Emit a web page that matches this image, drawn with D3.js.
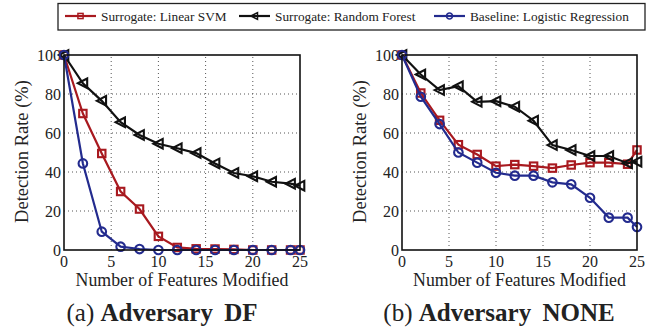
<!DOCTYPE html>
<html>
<head>
  <meta charset="utf-8">
  <title></title>
<style>
  body { margin: 0; background: #fff; }
  .grid line { stroke: #555; stroke-width: 1; stroke-dasharray: 1,3; }
  .frame { fill: none; stroke: #111; stroke-width: 1.6; }
</style>
</head>
<body>
<svg width="656" height="331"></svg>
<script src="https://d3js.org/d3.v7.min.js"></script>
<script>

// data
var features = [0, 2, 4, 6, 8, 10, 12, 14, 16, 18, 20, 22, 24, 25];

var svmDF   = [100, 70, 49.5, 30, 21, 7, 1.3, 0.6, 0.5, 0.3, 0, 0, 0, 0];
var rfDF    = [100, 85.5, 76.5, 65.5, 59, 54.5, 52.2, 49.7, 44.4, 39.5, 37.8, 35, 34, 33];
var lrDF    = [100, 44.4, 9.4, 1.7, 0.5, 0, 0, 0, 0, 0, 0, 0, 0, 0];

var svmNONE = [100, 80.5, 66.5, 54, 49, 43, 43.8, 43, 42, 43.6, 44.8, 44.8, 44, 51.3];
var rfNONE  = [100, 90, 82, 84, 76, 76.3, 73.5, 66.3, 53.8, 51.3, 48.2, 48.2, 44.5, 45.3];
var lrNONE  = [100, 78.6, 64.6, 50, 44.8, 39.6, 38.1, 38.1, 34.7, 33.7, 26.8, 16.6, 16.6, 11.8];

var xTicks = [0, 5, 10, 15, 20, 25];
var yTicks = [0, 20, 40, 60, 80, 100];
var legendNames = ["Surrogate: Linear SVM", "Surrogate: Random Forest", "Baseline: Logistic Regression"];
var colors = ["#a8191f", "#111111", "#232b8e"];
var shapes = ["square", "triangle", "circle"];

var serif = "'Liberation Serif'";
var svg = d3.select("svg");

var y = d3.scaleLinear().domain([0, 100]).range([250, 55]);

function txt(g, size) {
  return g.append("text").style("font-family", serif).style("font-size", size + "px").style("fill", "#222");
}

function marker(g, shape, color) {
  if (shape == "square") {
    g.append("rect").attr("x", -3.7).attr("y", -3.7).attr("width", 7.4).attr("height", 7.4)
      .attr("fill", "none").attr("stroke", color).attr("stroke-width", 2.1);
  } else if (shape == "circle") {
    g.append("circle").attr("r", 4.3)
      .attr("fill", "none").attr("stroke", color).attr("stroke-width", 2.1);
  } else {
    g.append("path").attr("d", "M-5,0L4.3,-4.8L4.3,4.8Z")
      .attr("fill", "none").attr("stroke", color).attr("stroke-width", 2.1).attr("stroke-linejoin", "miter");
  }
}

function panel(x0, x1, series, letter, title, capX) {
  var x = d3.scaleLinear().domain([0, 25]).range([x0, x1]);
  var g = svg.append("g");

  // grid
  var grid = g.append("g").attr("class", "grid");
  grid.selectAll(".gx").data(xTicks.slice(1, -1)).enter().append("line")
    .attr("x1", d => x(d)).attr("x2", d => x(d)).attr("y1", y(0)).attr("y2", y(100));
  grid.selectAll(".gy").data(yTicks.slice(1, -1)).enter().append("line")
    .attr("x1", x(0)).attr("x2", x(25)).attr("y1", d => y(d)).attr("y2", d => y(d));

  // tick labels
  xTicks.forEach(function (d) {
    txt(g, 16).attr("x", x(d)).attr("y", 267).attr("text-anchor", "middle").text(d);
  });
  yTicks.forEach(function (d) {
    txt(g, 16).attr("x", x(0) - 3).attr("y", y(d) + 6).attr("text-anchor", "end").text(d);
  });

  // lines
  var line = d3.line().x((d, i) => x(features[i])).y(d => y(d));
  series.forEach(function (s, k) {
    g.append("path").datum(s).attr("d", line)
      .attr("fill", "none").attr("stroke", colors[k]).attr("stroke-width", 2.2);
    g.selectAll(".m" + k).data(s).enter().append("g")
      .attr("transform", (d, i) => "translate(" + x(features[i]) + "," + y(d) + ")")
      .each(function () { marker(d3.select(this), shapes[k], colors[k]); });
  });

  // frame
  g.append("rect").attr("class", "frame")
    .attr("x", x(0)).attr("y", y(100)).attr("width", x(25) - x(0)).attr("height", y(0) - y(100));

  // labels
  txt(g, 17.8).attr("x", (x0 + x1) / 2).attr("y", 286).attr("text-anchor", "middle")
    .text("Number of Features Modified");
  txt(g, 18.5).attr("transform", "translate(" + (x0 - 36) + "," + (y(50) - 1) + ") rotate(-90)")
    .attr("text-anchor", "middle").text("Detection Rate (%)");
  var cap = txt(g, 25).attr("x", capX).attr("y", 321).attr("text-anchor", "middle");
  cap.append("tspan").text("(" + letter + ") ");
  cap.append("tspan").style("font-weight", "bold").attr("word-spacing", "5px").text(title);
}

panel(64, 300, [svmDF, rfDF, lrDF], "a", "Adversary DF", 162);
panel(402, 637, [svmNONE, rfNONE, lrNONE], "b", "Adversary NONE", 499);

// legend
var lg = svg.append("g");
lg.append("rect").attr("x", 58).attr("y", 3.5).attr("width", 587).attr("height", 26.5)
  .attr("fill", "#fff").attr("stroke", "#222").attr("stroke-width", 1.3);
var legX = [65, 239, 434];
legendNames.forEach(function (n, k) {
  lg.append("line").attr("x1", legX[k]).attr("x2", legX[k] + 31).attr("y1", 16).attr("y2", 16)
    .attr("stroke", colors[k]).attr("stroke-width", 2.2);
  var m = lg.append("g").attr("transform", "translate(" + (legX[k] + 15.5) + ",16) scale(0.7)");
  marker(m, shapes[k], colors[k]);
  txt(lg, 13.3).attr("x", legX[k] + 36).attr("y", 20.5).text(n);
});

</script>
</body>
</html>
